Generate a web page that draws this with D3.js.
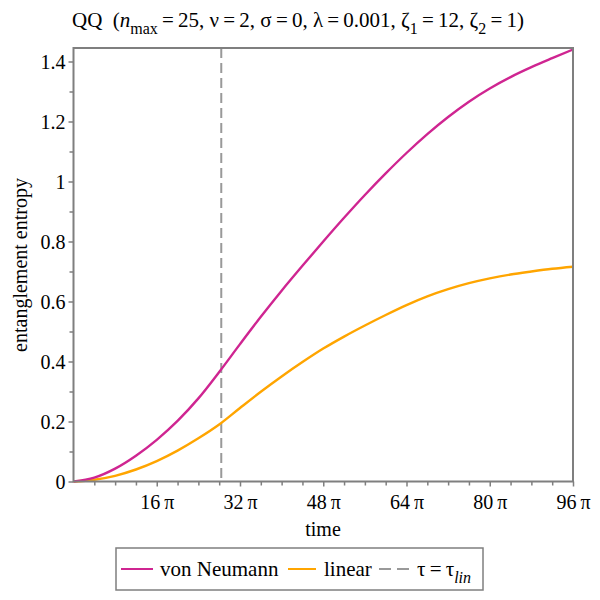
<!DOCTYPE html>
<html>
<head>
<meta charset="utf-8">
<script src="https://cdn.jsdelivr.net/npm/d3@7"></script>
<style>
  body { margin: 0; background: #fff; }
  svg text { font-family: "Times New Roman", Times, Tinos, "Liberation Serif", "DejaVu Serif", "Noto Serif", serif; }
</style>
</head>
<body>
<script>
// time in units of pi
let timePi = [0, 4, 8, 12, 16, 20, 24, 28, 32, 36, 40, 44, 48, 52, 56, 60, 64, 68, 72, 76, 80, 84, 88, 92, 96]
let vonNeumann = [0, 0.013, 0.043, 0.086, 0.139, 0.202, 0.277, 0.365, 0.458, 0.549, 0.636, 0.719, 0.8, 0.879,
  0.955, 1.027, 1.095, 1.158, 1.215, 1.266, 1.31, 1.348, 1.381, 1.411, 1.44]
let linear = [0, 0.006, 0.019, 0.04, 0.068, 0.103, 0.144, 0.19, 0.245, 0.299, 0.35, 0.398, 0.443, 0.483,
  0.52, 0.555, 0.588, 0.617, 0.641, 0.661, 0.677, 0.69, 0.7, 0.709, 0.716]
let tauLin = 28.4
let xTicks = [16, 32, 48, 64, 80, 96]
let yTicks = [0, 0.2, 0.4, 0.6, 0.8, 1, 1.2, 1.4]

let width = 600
let height = 600
let gray = '#7f7f7f'
let magenta = '#cf2591'
let orange = '#ffa500'

let svg = d3.select('body')
  .append('svg')
  .attr('width', width)
  .attr('height', height)

let x = d3.scaleLinear().domain([0, 96]).range([73.5, 573])
let y = d3.scaleLinear().domain([0, 1.445]).range([481.5, 48])

// title
let title = svg.append('text')
  .attr('x', 298)
  .attr('y', 27)
  .attr('text-anchor', 'middle')
  .attr('font-size', 21)
title.append('tspan').text('QQ\u00a0\u00a0(')
title.append('tspan').attr('font-style', 'italic').text('n')
title.append('tspan').attr('dy', 7).attr('font-size', 16).text('max')
title.append('tspan').attr('dy', -7).text('\u2009=\u200925, \u03bd\u2009=\u20092, \u03c3\u2009=\u20090, \u03bb\u2009=\u20090.001, \u03b6')
title.append('tspan').attr('dy', 7).attr('font-size', 16).text('1')
title.append('tspan').attr('dy', -7).text('\u2009=\u200912, \u03b6')
title.append('tspan').attr('dy', 7).attr('font-size', 16).text('2')
title.append('tspan').attr('dy', -7).text('\u2009=\u20091)')

// axes
let xAxis = svg.append('g')
  .attr('transform', 'translate(0,' + y(0) + ')')
  .call(d3.axisBottom(x).tickValues(xTicks).tickSize(5).tickPadding(8).tickFormat(d => d + '\u2009\u03c0'))
let xMinor = svg.append('g')
  .attr('transform', 'translate(0,' + y(0) + ')')
  .call(d3.axisBottom(x).tickValues(d3.range(4, 96, 4).filter(d => d % 16 !== 0)).tickSize(4).tickFormat(''))
let yAxis = svg.append('g')
  .attr('transform', 'translate(' + x(0) + ',0)')
  .call(d3.axisLeft(y).tickValues(yTicks).tickSize(5).tickPadding(3).tickFormat(d3.format('~g')))
let yMinor = svg.append('g')
  .attr('transform', 'translate(' + x(0) + ',0)')
  .call(d3.axisLeft(y).tickValues(d3.range(0.1, 1.4, 0.2)).tickSize(4).tickFormat(''))

svg.selectAll('.domain').remove()
svg.selectAll('g').attr('font-family', null).attr('font-size', 20)
svg.selectAll('.tick line').attr('stroke', gray).attr('stroke-width', 1.5)
svg.selectAll('.tick text').attr('fill', '#000')
yAxis.selectAll('.tick text').attr('dy', '0.35em')

// dashed tau line
svg.append('line')
  .attr('x1', x(tauLin))
  .attr('x2', x(tauLin))
  .attr('y1', y.range()[1])
  .attr('y2', y.range()[0])
  .attr('stroke', '#999')
  .attr('stroke-width', 2)
  .attr('stroke-dasharray', '10,5')

// curves
let line = d3.line()
  .x((d, i) => x(timePi[i]))
  .y(d => y(d))
  .curve(d3.curveMonotoneX)

svg.append('path')
  .datum(linear)
  .attr('d', line)
  .attr('fill', 'none')
  .attr('stroke', orange)
  .attr('stroke-width', 2.4)

svg.append('path')
  .datum(vonNeumann)
  .attr('d', line)
  .attr('fill', 'none')
  .attr('stroke', magenta)
  .attr('stroke-width', 2.4)

// frame
svg.append('rect')
  .attr('x', x(0))
  .attr('y', y.range()[1])
  .attr('width', x(96) - x(0))
  .attr('height', y.range()[0] - y.range()[1])
  .attr('fill', 'none')
  .attr('stroke', gray)
  .attr('stroke-width', 2)

// axis labels
svg.append('text')
  .attr('x', 323)
  .attr('y', 536)
  .attr('text-anchor', 'middle')
  .attr('font-size', 20)
  .text('time')

svg.append('text')
  .attr('transform', 'translate(27,265) rotate(-90)')
  .attr('text-anchor', 'middle')
  .attr('font-size', 20)
  .text('entanglement entropy')

// legend
let legend = svg.append('g')
legend.append('rect')
  .attr('x', 116)
  .attr('y', 548)
  .attr('width', 367)
  .attr('height', 42)
  .attr('fill', '#fff')
  .attr('stroke', gray)
  .attr('stroke-width', 1.5)

let items = [
  { label: 'von Neumann', color: magenta, dash: null, x1: 121, x2: 153, tx: 160 },
  { label: 'linear', color: orange, dash: null, x1: 288, x2: 316, tx: 324 },
  { label: 'tau', color: '#999', dash: '12,6', x1: 379, x2: 411, tx: 417 }
]
items.forEach(it => {
  legend.append('line')
    .attr('x1', it.x1).attr('x2', it.x2)
    .attr('y1', 569).attr('y2', 569)
    .attr('stroke', it.color)
    .attr('stroke-width', 2)
    .attr('stroke-dasharray', it.dash)
  let t = legend.append('text')
    .attr('x', it.tx)
    .attr('y', 576)
    .attr('font-size', 21)
  if (it.label === 'tau') {
    t.append('tspan').text('\u03c4\u2009=\u2009\u03c4')
    t.append('tspan').attr('dy', 7).attr('font-size', 16).attr('font-style', 'italic').text('lin')
  } else {
    t.text(it.label)
  }
})
</script>
</body>
</html>
